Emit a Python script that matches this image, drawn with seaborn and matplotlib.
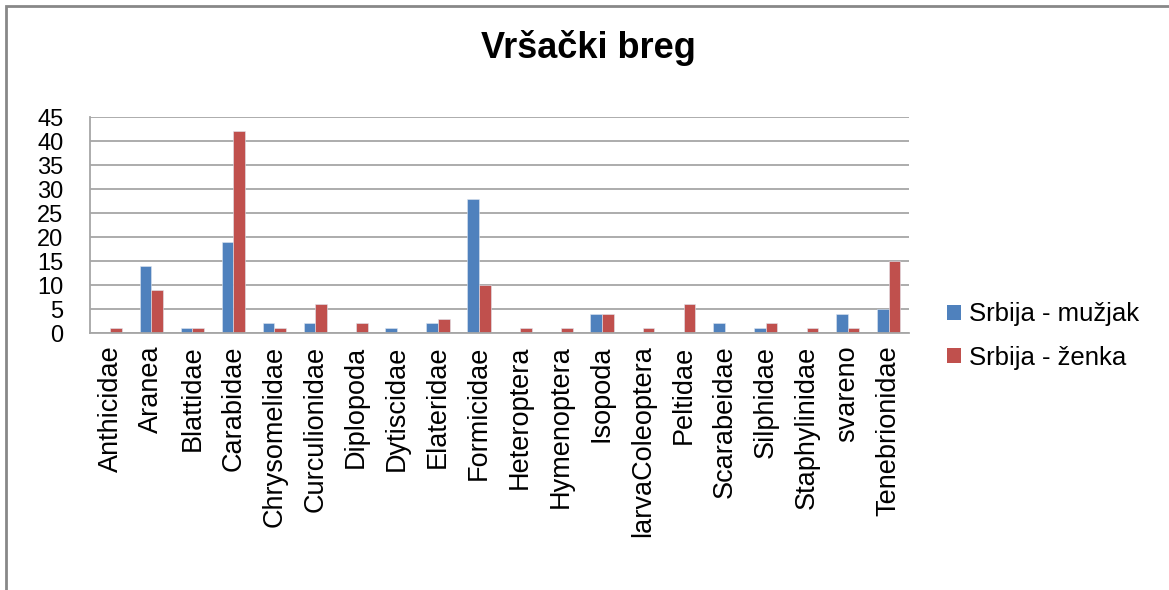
import matplotlib
matplotlib.use("Agg")
import matplotlib.pyplot as plt
import seaborn as sns
import pandas as pd
from matplotlib.patches import Rectangle, Patch

categories = ["Anthicidae", "Aranea", "Blattidae", "Carabidae", "Chrysomelidae",
              "Curculionidae", "Diplopoda", "Dytiscidae", "Elateridae", "Formicidae",
              "Heteroptera", "Hymenoptera", "Isopoda", "larvaColeoptera", "Peltidae",
              "Scarabeidae", "Silphidae", "Staphylinidae", "svareno", "Tenebrionidae"]
male = [0, 14, 1, 19, 2, 2, 0, 1, 2, 28, 0, 0, 4, 0, 0, 2, 1, 0, 4, 5]
female = [1, 9, 1, 42, 1, 6, 2, 0, 3, 10, 1, 1, 4, 1, 6, 0, 2, 1, 1, 15]
series_names = ["Srbija - mužjak", "Srbija - ženka"]
colors = ["#4F81BD", "#C0504D"]
yticks = [0, 5, 10, 15, 20, 25, 30, 35, 40, 45]
title = "Vršački breg"

df = pd.DataFrame({
    "cat": categories * 2,
    "val": male + female,
    "series": [series_names[0]] * len(categories) + [series_names[1]] * len(categories),
})

sns.set_theme(style="white")
plt.rcParams["font.family"] = ["Liberation Sans", "DejaVu Sans"]
plt.rcParams["text.color"] = "black"
plt.rcParams["xtick.color"] = "black"
plt.rcParams["ytick.color"] = "black"

fig = plt.figure(figsize=(11.69, 5.90), dpi=100)
ax = fig.add_axes([90 / 1169, 1 - 333 / 590, (909 - 90) / 1169, (333 - 117) / 590])

sns.barplot(data=df, x="cat", y="val", hue="series", palette=colors,
            width=0.57, ax=ax, legend=False, saturation=1,
            edgecolor="#dfe6f0", linewidth=0.4)

ax.set_ylim(0, 45)
ax.set_xlim(-0.5, len(categories) - 0.5)
ax.set_yticks(yticks)
ax.set_yticklabels([str(v) for v in yticks], fontsize=17)
ax.set_xticks(range(len(categories)))
ax.set_xticklabels(categories, rotation=90, fontsize=19.5, va="top")
ax.tick_params(axis="x", pad=9, length=0, colors="black")
ax.tick_params(axis="y", pad=19, length=0, colors="black")
ax.set_xlabel("")
ax.set_ylabel("")
ax.yaxis.grid(True, color="#a6a6a6", linewidth=1.3)
ax.set_axisbelow(True)
for s in ["top", "right"]:
    ax.spines[s].set_visible(False)
for s in ["left", "bottom"]:
    ax.spines[s].set_color("#a6a6a6")
    ax.spines[s].set_linewidth(1.3)

fig.text(588 / 1169, 1 - 48 / 590, title, fontsize=26, fontweight="bold",
         ha="center", va="center", color="black")

handles = [Patch(facecolor=c, edgecolor="none") for c in colors]
leg = fig.legend(handles, series_names, loc="center left",
                 bbox_to_anchor=(924 / 1169, 1 - 336 / 590), frameon=False,
                 fontsize=18.5, handlelength=0.55, handleheight=0.55,
                 handletextpad=0.3, labelspacing=0.75)
for t in leg.get_texts():
    t.set_color("black")

fig.patches.append(Rectangle((6 / 1169, -0.1), 1.2, 1 - 6 / 590 + 0.1,
                             transform=fig.transFigure, fill=False,
                             edgecolor="#888888", linewidth=2))

fig.savefig("out.png", dpi=100)
